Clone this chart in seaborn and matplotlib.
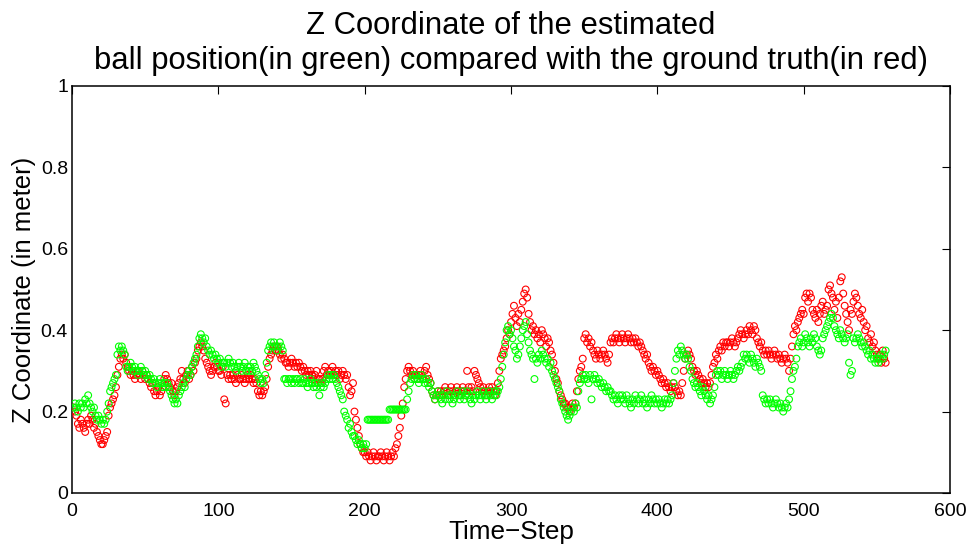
import numpy as np
import matplotlib
matplotlib.use("Agg")
import matplotlib.pyplot as plt
import seaborn as sns

# Ground truth Z coordinate (red), one value per time step starting at 1
truth_z = [
    0.21, 0.20, 0.19,
    0.17, 0.16, 0.18, 0.17, 0.16, 0.15, 0.17,
    0.18, 0.17, 0.19, 0.18, 0.16, 0.17,
    0.15, 0.14, 0.13, 0.12, 0.12,
    0.13, 0.14, 0.15,
    0.19, 0.21, 0.22, 0.23, 0.24, 0.26,
    0.29, 0.31, 0.33, 0.34, 0.33, 0.34,
    0.32, 0.31, 0.30, 0.29,
    0.30, 0.29, 0.28, 0.29, 0.30, 0.29, 0.28, 0.30, 0.29, 0.28, 0.29, 0.28,
    0.27, 0.26, 0.27, 0.25, 0.24, 0.25, 0.26, 0.24, 0.25, 0.26,
    0.28, 0.29, 0.28, 0.27, 0.26, 0.27,
    0.25, 0.24, 0.25, 0.26, 0.27, 0.28, 0.30,
    0.28, 0.27, 0.29, 0.30, 0.28, 0.29, 0.31, 0.30, 0.32, 0.33,
    0.35, 0.36, 0.37, 0.36, 0.35,
    0.33, 0.32, 0.31, 0.30, 0.29, 0.30, 0.31, 0.32, 0.31, 0.30,
    0.30, 0.29, 0.31, 0.23, 0.22,
    0.29, 0.28, 0.29, 0.28, 0.29, 0.28, 0.27, 0.29, 0.28, 0.28, 0.29,
    0.28, 0.27, 0.28, 0.29, 0.28, 0.29, 0.28, 0.27, 0.28, 0.27,
    0.25, 0.24, 0.25, 0.24, 0.25, 0.26, 0.28,
    0.31, 0.33, 0.34, 0.35, 0.36, 0.35, 0.36, 0.35, 0.34, 0.33, 0.34,
    0.33, 0.32, 0.32, 0.31, 0.32, 0.33, 0.32, 0.31, 0.32, 0.31, 0.32, 0.31, 0.30, 0.31,
    0.30, 0.29, 0.30, 0.29, 0.30, 0.29, 0.28, 0.29, 0.30,
    0.28, 0.28, 0.27, 0.28,
    0.30, 0.31, 0.29, 0.30, 0.29, 0.30, 0.31, 0.29, 0.30, 0.29, 0.30,
    0.28, 0.29, 0.30, 0.29, 0.28, 0.29, 0.26, 0.24, 0.25, 0.27,
    0.20, 0.18, 0.16, 0.14, 0.12, 0.11, 0.10, 0.10,
    0.09, 0.10, 0.09, 0.08, 0.09, 0.10, 0.09, 0.08, 0.09, 0.09,
    0.10, 0.09, 0.08, 0.09, 0.10, 0.09, 0.08, 0.09, 0.10, 0.09,
    0.11, 0.12, 0.14, 0.16, 0.19, 0.22,
    0.26, 0.28, 0.30, 0.31, 0.30, 0.29, 0.30, 0.29,
    0.29, 0.28, 0.29, 0.30, 0.29, 0.28, 0.30, 0.31,
    0.29, 0.28, 0.27, 0.25, 0.24, 0.23, 0.24, 0.25, 0.24, 0.25,
    0.24, 0.25, 0.26, 0.25, 0.24, 0.25, 0.26, 0.25, 0.24, 0.25,
    0.26, 0.25, 0.24, 0.25, 0.26, 0.25, 0.24, 0.30,
    0.26, 0.25, 0.26, 0.25, 0.30, 0.29, 0.28, 0.27, 0.26,
    0.25, 0.26, 0.25, 0.24, 0.25, 0.26, 0.25, 0.26, 0.25, 0.24, 0.25, 0.27,
    0.30, 0.33, 0.34, 0.35,
    0.36, 0.38, 0.40, 0.39, 0.42, 0.44, 0.46, 0.43, 0.41, 0.44,
    0.42, 0.45, 0.47, 0.49, 0.50, 0.48, 0.44, 0.42, 0.40,
    0.41, 0.39, 0.40, 0.38, 0.39, 0.37, 0.40, 0.39, 0.38, 0.36, 0.38, 0.37, 0.35,
    0.34, 0.32, 0.30, 0.28, 0.27, 0.25, 0.24, 0.23, 0.22,
    0.22, 0.21, 0.21, 0.20, 0.21, 0.22, 0.21, 0.22,
    0.25, 0.28, 0.30, 0.31, 0.33,
    0.38, 0.39, 0.37, 0.38, 0.36, 0.37, 0.35,
    0.34, 0.33, 0.35, 0.34, 0.33, 0.34, 0.35, 0.34, 0.33, 0.32, 0.34,
    0.37, 0.38, 0.37, 0.38, 0.39, 0.38, 0.37, 0.38, 0.39, 0.38, 0.37, 0.38,
    0.39, 0.38, 0.37, 0.38, 0.37, 0.38, 0.37, 0.36, 0.37, 0.36, 0.35,
    0.34, 0.33, 0.34, 0.32, 0.31, 0.30, 0.31, 0.30, 0.29, 0.30,
    0.29, 0.28, 0.27, 0.28, 0.27, 0.26, 0.27, 0.26, 0.25, 0.26,
    0.27, 0.26, 0.25, 0.24, 0.25, 0.24,
    0.27, 0.30, 0.33, 0.34, 0.35, 0.34, 0.33,
    0.31, 0.30, 0.29, 0.30, 0.29, 0.28, 0.27, 0.28, 0.27, 0.26, 0.27, 0.26, 0.27, 0.29,
    0.31, 0.32, 0.34, 0.33, 0.35, 0.36, 0.35,
    0.37, 0.36, 0.37, 0.37, 0.36, 0.37, 0.38, 0.37, 0.36, 0.37, 0.38,
    0.39, 0.40, 0.39, 0.38, 0.39, 0.40, 0.39,
    0.41, 0.40, 0.39, 0.41, 0.40, 0.38, 0.37, 0.36, 0.37,
    0.35, 0.34, 0.35, 0.34, 0.35, 0.34, 0.33, 0.34, 0.35,
    0.34, 0.33, 0.34, 0.33, 0.32, 0.33, 0.34, 0.33, 0.32,
    0.30, 0.33, 0.36, 0.39, 0.41, 0.40, 0.42, 0.43, 0.44, 0.45, 0.44,
    0.48, 0.49, 0.47, 0.49, 0.48, 0.45, 0.44, 0.43, 0.45, 0.42, 0.44,
    0.46, 0.47, 0.44, 0.45, 0.46, 0.50, 0.51, 0.49, 0.48,
    0.45, 0.47, 0.43, 0.48, 0.52, 0.53, 0.49, 0.46, 0.44,
    0.42, 0.40, 0.45, 0.44, 0.47, 0.49, 0.48, 0.46, 0.44,
    0.43, 0.45, 0.42, 0.40, 0.41, 0.38, 0.37, 0.39, 0.36,
    0.37, 0.35, 0.34, 0.33, 0.34, 0.32, 0.35, 0.33, 0.32,
]

# Estimated Z coordinate (green), one value per time step starting at 1
estimate_z = [
    0.21, 0.22, 0.21, 0.20, 0.22, 0.21, 0.22, 0.21, 0.23, 0.22, 0.24,
    0.22, 0.21, 0.20, 0.21, 0.19, 0.18, 0.19, 0.18, 0.17, 0.18, 0.17, 0.18,
    0.20, 0.22, 0.25, 0.26, 0.27, 0.28, 0.29,
    0.34, 0.36, 0.35, 0.36, 0.35, 0.34,
    0.31, 0.30, 0.31, 0.32, 0.31, 0.30, 0.31, 0.30,
    0.29, 0.30, 0.31, 0.30, 0.29, 0.30, 0.29, 0.28,
    0.29, 0.28, 0.27, 0.28, 0.27, 0.26, 0.27, 0.28,
    0.27, 0.26, 0.27, 0.26, 0.27, 0.26, 0.25, 0.24,
    0.23, 0.22, 0.23, 0.22,
    0.24, 0.25, 0.26, 0.27, 0.26, 0.28, 0.29, 0.30, 0.29, 0.31, 0.32, 0.33, 0.34, 0.36,
    0.38, 0.39, 0.38, 0.37, 0.38, 0.36,
    0.35, 0.34, 0.35, 0.34, 0.33, 0.34, 0.33, 0.32, 0.33, 0.31, 0.32,
    0.32, 0.31, 0.32, 0.33, 0.32, 0.31, 0.32, 0.31, 0.30, 0.31, 0.32, 0.31,
    0.30, 0.31, 0.32, 0.30, 0.31, 0.30, 0.31, 0.30, 0.32, 0.31, 0.30,
    0.29, 0.28, 0.27, 0.28, 0.27, 0.29, 0.32, 0.35,
    0.36, 0.37, 0.36, 0.37, 0.36, 0.35, 0.36, 0.37, 0.36, 0.35,
    0.28, 0.28, 0.27, 0.28, 0.28, 0.27, 0.28, 0.27, 0.28, 0.28,
    0.27, 0.28, 0.27, 0.27, 0.28, 0.27, 0.26, 0.27, 0.28, 0.27,
    0.26, 0.27, 0.26, 0.27, 0.24, 0.26, 0.27, 0.26, 0.27, 0.28,
    0.29, 0.28, 0.29, 0.28, 0.29, 0.28, 0.27,
    0.26, 0.25, 0.24, 0.23,
    0.20, 0.19, 0.18, 0.16, 0.17, 0.15, 0.14,
    0.14, 0.13, 0.12, 0.13, 0.12, 0.11, 0.12, 0.11, 0.12,
    0.18, 0.18, 0.18, 0.18, 0.18, 0.18, 0.18, 0.18,
    0.18, 0.18, 0.18, 0.18, 0.18, 0.18, 0.18,
    0.205, 0.205, 0.205, 0.205, 0.205, 0.205,
    0.205, 0.205, 0.205, 0.205, 0.205, 0.205,
    0.23, 0.25, 0.27, 0.28,
    0.29, 0.28, 0.29, 0.28, 0.27, 0.28, 0.29, 0.28, 0.27, 0.28, 0.27, 0.26, 0.27,
    0.25, 0.24, 0.23, 0.24, 0.25, 0.24, 0.23, 0.22, 0.24, 0.23,
    0.25, 0.24, 0.23, 0.24, 0.22, 0.23, 0.24, 0.25, 0.24, 0.23,
    0.24, 0.25, 0.23, 0.24, 0.25, 0.24, 0.23, 0.22, 0.24, 0.23,
    0.24, 0.25, 0.24, 0.23, 0.24, 0.25, 0.24, 0.23, 0.24, 0.25,
    0.24, 0.23, 0.24, 0.25, 0.24, 0.25, 0.26,
    0.28, 0.31, 0.34, 0.37, 0.40, 0.41, 0.39, 0.40,
    0.38, 0.36, 0.35, 0.33, 0.34, 0.36, 0.38, 0.40, 0.41, 0.42, 0.39, 0.37, 0.35,
    0.34, 0.33, 0.28, 0.33, 0.32, 0.34, 0.33, 0.35, 0.34, 0.33, 0.32, 0.33, 0.31, 0.32,
    0.30, 0.29, 0.28, 0.27, 0.26, 0.25,
    0.23, 0.22, 0.21, 0.20, 0.19, 0.18, 0.19, 0.20, 0.21, 0.20, 0.22, 0.21,
    0.25, 0.27, 0.28, 0.29, 0.28, 0.29, 0.28, 0.27, 0.29,
    0.23,
    0.28, 0.29, 0.28, 0.27, 0.28, 0.27, 0.26, 0.27, 0.26, 0.25, 0.26, 0.25,
    0.25, 0.24, 0.23, 0.24, 0.23, 0.22, 0.24, 0.23, 0.24,
    0.23, 0.22, 0.24, 0.23, 0.22, 0.21, 0.23, 0.22, 0.24, 0.23,
    0.22, 0.23, 0.24, 0.22, 0.23, 0.22, 0.21, 0.23, 0.22, 0.24, 0.23,
    0.22, 0.23, 0.22, 0.23, 0.22, 0.21, 0.22, 0.23, 0.22, 0.23, 0.22, 0.23, 0.24,
    0.27, 0.30, 0.33, 0.35, 0.34, 0.36, 0.35, 0.34, 0.33, 0.34, 0.33, 0.31, 0.30,
    0.28, 0.27, 0.26, 0.27, 0.26, 0.25, 0.24, 0.26,
    0.25, 0.24, 0.23, 0.24, 0.22, 0.23, 0.24, 0.26,
    0.29, 0.30, 0.29, 0.30, 0.28, 0.29, 0.30, 0.29, 0.28,
    0.29, 0.30, 0.29, 0.28, 0.29, 0.30, 0.31, 0.30, 0.31,
    0.32, 0.34, 0.33, 0.34, 0.33, 0.32, 0.34, 0.33, 0.32, 0.31, 0.33, 0.32, 0.31, 0.30,
    0.24, 0.23, 0.22, 0.23, 0.22, 0.23, 0.22, 0.21, 0.22,
    0.23, 0.22, 0.21, 0.22, 0.21, 0.20, 0.21, 0.22, 0.21,
    0.23, 0.25, 0.28, 0.30, 0.31, 0.33, 0.36,
    0.37, 0.38, 0.36, 0.37, 0.39, 0.38, 0.37, 0.36, 0.38, 0.37,
    0.39, 0.38, 0.36, 0.35, 0.34, 0.35, 0.38, 0.39, 0.40, 0.41,
    0.42, 0.43, 0.44, 0.43, 0.41, 0.40,
    0.39, 0.38, 0.40, 0.39, 0.38, 0.37, 0.38, 0.39,
    0.32, 0.29, 0.30, 0.38, 0.37, 0.38, 0.39, 0.38,
    0.37, 0.36, 0.37, 0.36, 0.35, 0.34, 0.35, 0.33, 0.34,
    0.33, 0.32, 0.33, 0.32, 0.33, 0.34, 0.33, 0.34, 0.35,
]

x_ticks = [0, 100, 200, 300, 400, 500, 600]
y_ticks = [0, 0.2, 0.4, 0.6, 0.8, 1.0]
y_tick_labels = ["0", "0.2", "0.4", "0.6", "0.8", "1"]

title_text = ("Z Coordinate of the estimated\n"
              "ball position(in green) compared with the ground truth(in red)")
x_label = "Time\u2212Step"
y_label = "Z Coordinate (in meter)"

sns.set_theme(style="white")
plt.rcParams["font.family"] = ["Liberation Sans", "DejaVu Sans"]
plt.rcParams["axes.unicode_minus"] = True
plt.rcParams["text.color"] = "black"
plt.rcParams["axes.labelcolor"] = "black"

fig = plt.figure(figsize=(9.71, 5.48), dpi=100)
ax = fig.add_axes([0.0742, 0.1004, 0.9042, 0.7427])

t_truth = np.arange(1, len(truth_z) + 1)
t_est = np.arange(1, len(estimate_z) + 1)

sns.scatterplot(x=t_truth, y=truth_z, ax=ax, marker="o", s=24,
                color="#ff0000", facecolor="none", edgecolor="#ff0000",
                linewidth=0.8, zorder=3)
sns.scatterplot(x=t_est, y=estimate_z, ax=ax, marker="o", s=24,
                color="#00ff00", facecolor="none", edgecolor="#00ff00",
                linewidth=0.8, zorder=3)

ax.set_xlim(0, 600)
ax.set_ylim(0, 1)
ax.set_xticks(x_ticks)
ax.set_xticklabels([str(v) for v in x_ticks])
ax.set_yticks(y_ticks)
ax.set_yticklabels(y_tick_labels)
ax.tick_params(axis="x", direction="in", length=6, width=0.8, top=True,
               labelsize=14, colors="black", pad=7)
ax.tick_params(axis="y", direction="in", length=6, width=0.8, right=True,
               labelsize=14, colors="black", pad=3)

for sp in ax.spines.values():
    sp.set_visible(True)
    sp.set_color("black")
    sp.set_linewidth(1.1)

ax.set_xlabel(x_label, fontsize=18.8, labelpad=0)
ax.set_ylabel(y_label, fontsize=18.5, labelpad=3)
ax.set_title(title_text, fontsize=22.3, linespacing=1.22, pad=12, color="black")
ax.grid(False)

fig.savefig("out.png", dpi=100)
